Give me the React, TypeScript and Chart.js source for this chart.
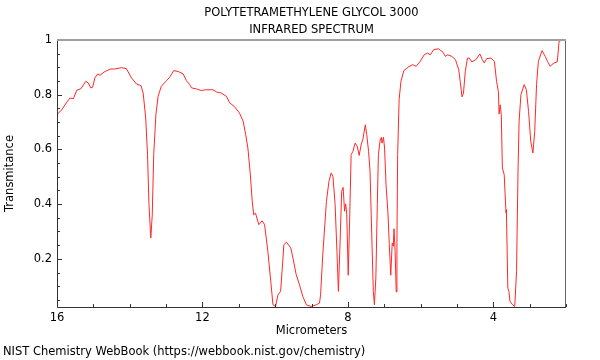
import { useEffect, useRef } from 'react';
import { Chart, registerables } from 'chart.js';

Chart.register(...registerables);

const TITLE_LINES = ['POLYTETRAMETHYLENE GLYCOL 3000', 'INFRARED SPECTRUM'];
const X_TITLE = 'Micrometers';
const Y_TITLE = 'Transmitance';
const FOOTER = 'NIST Chemistry WebBook (https://webbook.nist.gov/chemistry)';

const wavelengths = [
  16.0, 15.87, 15.73, 15.64, 15.55, 15.46, 15.34, 15.21, 15.14, 15.07, 15.02, 14.96, 14.88, 14.82,
  14.68, 14.52, 14.41, 14.22, 14.09, 13.95, 13.81, 13.69, 13.63, 13.56, 13.51, 13.47, 13.42, 13.38,
  13.34, 13.28, 13.22, 13.13, 12.99, 12.9, 12.79, 12.67, 12.53, 12.44, 12.35, 12.3, 12.16, 12.03,
  11.92, 11.71, 11.61, 11.48, 11.34, 11.25, 11.13, 10.98, 10.88, 10.81, 10.75, 10.69, 10.63, 10.59,
  10.54, 10.45, 10.36, 10.29, 10.2, 10.12, 10.06, 9.99, 9.92, 9.85, 9.81, 9.76, 9.69, 9.57, 9.51,
  9.42, 9.33, 9.24, 9.14, 9.01, 8.87, 8.78, 8.75, 8.69, 8.59, 8.52, 8.46, 8.41, 8.35, 8.3, 8.26,
  8.21, 8.17, 8.13, 8.09, 8.06, 8.03, 7.99, 7.95, 7.91, 7.86, 7.8, 7.74, 7.69, 7.63, 7.59, 7.52,
  7.48, 7.43, 7.39, 7.34, 7.3, 7.27, 7.23, 7.19, 7.16, 7.11, 7.08, 7.06, 7.02, 6.99, 6.95, 6.9,
  6.86, 6.82, 6.78, 6.75, 6.73, 6.7, 6.67, 6.65, 6.63, 6.59, 6.54, 6.46, 6.35, 6.22, 6.12, 6.01,
  5.9, 5.81, 5.73, 5.64, 5.51, 5.44, 5.38, 5.32, 5.26, 5.14, 5.04, 4.95, 4.91, 4.86, 4.82, 4.77,
  4.71, 4.66, 4.59, 4.48, 4.37, 4.3, 4.25, 4.18, 4.06, 3.97, 3.91, 3.86, 3.84, 3.81, 3.78, 3.75,
  3.7, 3.65, 3.64, 3.6, 3.57, 3.54, 3.47, 3.41, 3.36, 3.32, 3.29, 3.24, 3.15, 3.09, 3.03, 2.97,
  2.91, 2.86, 2.81, 2.76, 2.66, 2.57, 2.51, 2.44, 2.33, 2.24, 2.19, 2.11, 2.02,
];

const transmittance = [
  0.727, 0.745, 0.773, 0.788, 0.785, 0.816, 0.822, 0.849, 0.843, 0.825, 0.827, 0.861, 0.876, 0.871,
  0.885, 0.894, 0.894, 0.899, 0.895, 0.861, 0.839, 0.833, 0.806, 0.715, 0.581, 0.398, 0.276, 0.361,
  0.581, 0.727, 0.794, 0.831, 0.851, 0.864, 0.888, 0.885, 0.876, 0.851, 0.837, 0.825, 0.821, 0.815,
  0.818, 0.818, 0.81, 0.806, 0.794, 0.77, 0.758, 0.733, 0.703, 0.654, 0.605, 0.52, 0.41, 0.361,
  0.367, 0.325, 0.339, 0.325, 0.227, 0.118, 0.032, 0.026, 0.069, 0.081, 0.154, 0.252, 0.261, 0.24, 0.203,
  0.142, 0.105, 0.063, 0.032, 0.026, 0.032, 0.038, 0.069, 0.215, 0.41, 0.483, 0.514, 0.502, 0.398, 0.227, 0.081,
  0.276, 0.447, 0.461, 0.374, 0.401, 0.361, 0.14, 0.349, 0.581, 0.593, 0.623, 0.611, 0.578, 0.62, 0.635, 0.69,
  0.654, 0.593, 0.52, 0.276, 0.081, 0.032, 0.13, 0.398, 0.581, 0.635, 0.644, 0.623, 0.644, 0.605, 0.471, 0.374,
  0.252, 0.14, 0.258, 0.246, 0.31, 0.227, 0.079, 0.276, 0.581, 0.782, 0.849, 0.888, 0.9, 0.91, 0.904, 0.922,
  0.946, 0.952, 0.946, 0.965, 0.968, 0.961, 0.955, 0.94, 0.946, 0.94, 0.928, 0.891, 0.849, 0.792, 0.806, 0.885,
  0.934, 0.934, 0.92, 0.928, 0.949, 0.928, 0.916, 0.932, 0.934, 0.922, 0.849, 0.812, 0.729, 0.763, 0.727, 0.532,
  0.508, 0.367, 0.38, 0.093, 0.081, 0.045, 0.032, 0.026, 0.154, 0.52, 0.703, 0.8, 0.837, 0.818, 0.739, 0.63,
  0.587, 0.666, 0.837, 0.922, 0.961, 0.94, 0.922, 0.904, 0.916, 0.92, 0.995, 1.0, 1.0,
];

const xTickValues = [16, 15, 14, 13, 12, 11, 10, 9, 8, 7, 6, 5, 4, 3, 2];
const xLabelValues = [16, 12, 8, 4];
const yTickValues = [
  0.05, 0.1, 0.15, 0.2, 0.25, 0.3, 0.35, 0.4, 0.45, 0.5, 0.55, 0.6, 0.65, 0.7, 0.75, 0.8, 0.85, 0.9, 0.95, 1,
];
const yLabelValues = [0.2, 0.4, 0.6, 0.8, 1];

const FONT = '"DejaVu Sans", sans-serif';
const FONT_SIZE = 11.5;

const isIn = (list: number[], v: number) => list.some((l) => Math.abs(l - v) < 1e-6);

const framePlugin = {
  id: 'frame',
  afterDraw(chart: any) {
    const { ctx, chartArea: a, scales } = chart;
    ctx.save();
    // ticks (inward)
    ctx.strokeStyle = '#333';
    ctx.lineWidth = 1;
    ctx.beginPath();
    for (const t of scales.x.ticks) {
      const px = Math.round(scales.x.getPixelForValue(t.value)) + 0.5;
      const len = isIn(xLabelValues, t.value) ? 5 : 3;
      ctx.moveTo(px, a.bottom);
      ctx.lineTo(px, a.bottom - len);
    }
    for (const t of scales.y.ticks) {
      const py = Math.round(scales.y.getPixelForValue(t.value)) + 0.5;
      const len = isIn(yLabelValues, t.value) ? 5 : 3;
      ctx.moveTo(a.left, py);
      ctx.lineTo(a.left + len, py);
    }
    ctx.stroke();
    // left and bottom axes
    ctx.strokeStyle = '#333';
    ctx.beginPath();
    ctx.moveTo(Math.round(a.left) + 0.5, a.top);
    ctx.lineTo(Math.round(a.left) + 0.5, a.bottom + 0.5);
    ctx.lineTo(a.right, a.bottom + 0.5);
    ctx.stroke();
    // right border
    ctx.strokeStyle = '#666';
    ctx.beginPath();
    ctx.moveTo(Math.round(a.right) - 0.5, a.top);
    ctx.lineTo(Math.round(a.right) - 0.5, a.bottom);
    ctx.stroke();
    // top border
    ctx.strokeStyle = '#a0a0a0';
    ctx.lineWidth = 2;
    ctx.beginPath();
    ctx.moveTo(a.left, a.top);
    ctx.lineTo(a.right, a.top);
    ctx.stroke();

    // texts
    ctx.fillStyle = '#000';
    ctx.font = `${FONT_SIZE}px ${FONT}`;
    ctx.textAlign = 'center';
    ctx.textBaseline = 'middle';
    const cx = (a.left + a.right) / 2;
    ctx.fillText(TITLE_LINES[0], cx, 13);
    ctx.fillText(TITLE_LINES[1], cx, 30);
    ctx.fillText(X_TITLE, cx, 331);
    ctx.save();
    ctx.translate(10, (a.top + a.bottom) / 2);
    ctx.rotate(-Math.PI / 2);
    ctx.fillText(Y_TITLE, 0, 0);
    ctx.restore();
    ctx.textAlign = 'left';
    ctx.fillText(FOOTER, 3, 352);
    ctx.restore();
  },
};

export default function App() {
  const ref = useRef<HTMLCanvasElement>(null);
  useEffect(() => {
    if (!ref.current) return;
    const points = wavelengths.map((w, i) => ({ x: w, y: transmittance[i] }));
    const chart = new Chart(ref.current, {
      type: 'line',
      data: {
        datasets: [
          {
            data: points,
            borderColor: 'rgb(255,40,40)',
            borderWidth: 1,
            pointRadius: 0,
            tension: 0,
            fill: false,
          },
        ],
      },
      options: {
        animation: false,
        responsive: false,
        devicePixelRatio: 1,
        layout: { padding: { left: 0, top: 40, right: 34, bottom: 0 } },
        plugins: { legend: { display: false }, tooltip: { enabled: false }, title: { display: false } },
        scales: {
          x: {
            type: 'linear',
            reverse: true,
            min: 2,
            max: 16,
            grid: { display: false, drawTicks: false },
            border: { display: false },
            afterFit: (s: any) => {
              s.height = 53;
            },
            afterBuildTicks: (s: any) => {
              s.ticks = xTickValues.map((v) => ({ value: v }));
            },
            ticks: {
              autoSkip: false,
              maxRotation: 0,
              padding: 4,
              color: '#000',
              font: { family: FONT, size: FONT_SIZE },
              callback: (v: any) => (isIn(xLabelValues, Number(v)) ? String(v) : ''),
            },
          },
          y: {
            type: 'linear',
            min: 0.024,
            max: 1,
            grid: { display: false, drawTicks: false },
            border: { display: false },
            afterFit: (s: any) => {
              s.width = 57;
            },
            afterBuildTicks: (s: any) => {
              s.ticks = yTickValues.map((v) => ({ value: v }));
            },
            ticks: {
              autoSkip: false,
              padding: 5,
              color: '#000',
              font: { family: FONT, size: FONT_SIZE },
              callback: (v: any) => (isIn(yLabelValues, Number(v)) ? String(Number(v)) : ''),
            },
          },
        },
      },
      plugins: [framePlugin],
    });
    return () => chart.destroy();
  }, []);
  return (
    <div style={{ position: 'fixed', left: 0, top: 0, width: 600, height: 360 }}>
      <canvas ref={ref} width={600} height={360} />
    </div>
  );
}
